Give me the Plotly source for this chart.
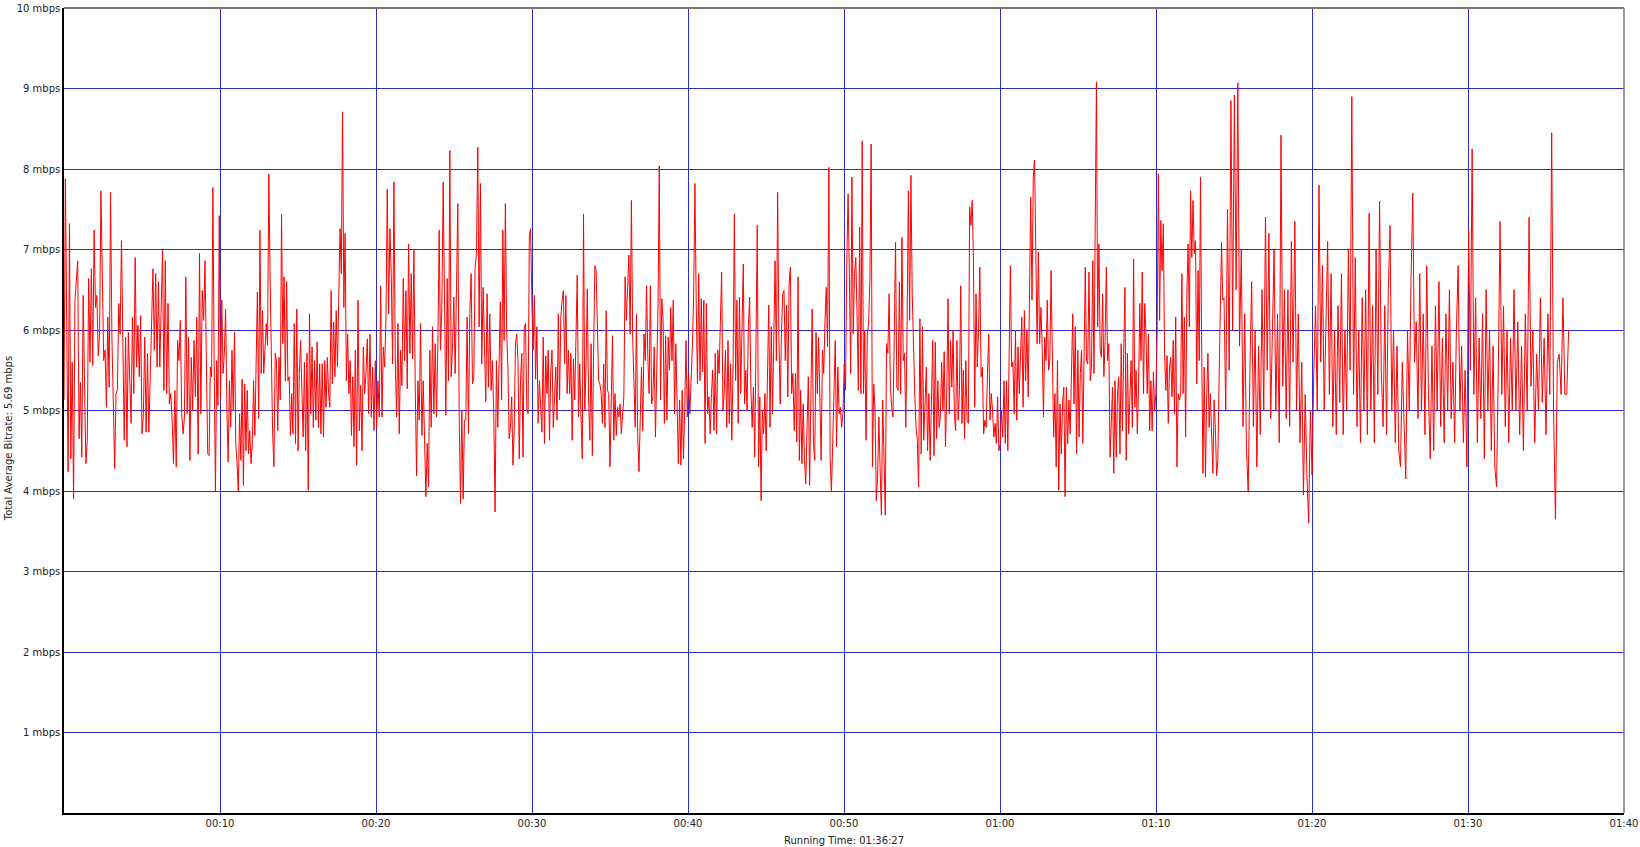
import numpy as np
import plotly.graph_objects as go

# ---- data (minutes of running time, Mbps) ----
seg_00 = [5.13, 7.88, 6.10, 4.24, 7.32, 4.40, 5.60, 3.90, 6.37, 6.70, 6.86, 4.65, 5.35, 4.42, 6.43, 5.35, 4.34, 4.63, 6.64, 5.60,
          6.76, 5.56, 7.24, 6.28, 6.43, 5.68, 5.95, 7.73, 6.37, 5.62, 5.75, 5.04, 6.16, 5.29, 7.71, 5.91, 5.13, 4.28, 5.21, 5.25,
          6.33, 5.95, 7.11, 5.91, 4.63, 5.91, 4.55, 5.97, 5.21, 4.84, 6.16, 5.21, 6.90, 5.54, 6.06, 5.42, 6.18, 4.71, 4.96, 5.91,
          4.73, 5.71, 4.73, 5.42, 6.06, 6.76, 5.75, 6.70, 5.54, 6.60, 5.54, 6.33, 6.99, 5.25, 6.86, 5.21, 6.33, 5.08, 5.21, 4.88,
          4.34, 5.25, 4.30, 5.87, 5.62, 6.12, 4.96, 4.71, 4.92, 6.66, 4.96, 5.91, 4.38, 5.66, 5.00, 5.87, 5.17, 6.16, 4.46, 6.95,
          4.96, 6.49, 6.12, 6.86, 5.62, 4.46]
seg_01 = [4.44, 5.54, 5.42, 7.77, 5.62, 3.99, 5.62, 5.06, 7.42, 5.17, 6.37, 5.46, 5.71, 6.26, 5.00, 4.36, 5.37, 4.79, 5.75, 5.00,
          5.97, 4.59, 4.34, 3.99, 4.96, 4.38, 5.39, 4.07, 5.33, 4.50, 5.25, 4.46, 4.75, 4.34, 4.59, 5.37, 4.69, 5.42, 6.47, 4.90,
          7.24, 5.46, 6.24, 5.46, 5.83, 6.08, 5.81, 7.94, 6.66, 5.46, 4.71, 4.30, 5.71, 5.62, 4.75, 5.66, 5.13, 7.44, 5.83, 6.66,
          5.37, 6.60, 5.37, 5.42, 4.69, 5.21, 4.71, 6.08, 4.59, 6.26, 4.50, 5.46, 5.87, 5.25, 4.67, 5.60, 4.50, 5.71, 4.01, 6.20,
          4.96, 5.79, 4.79, 5.62, 4.88, 5.85, 4.79, 5.58, 4.71, 5.58, 4.67, 5.62, 5.04, 5.66, 5.21, 5.04, 6.49, 5.33, 6.10, 5.42,
          6.24, 5.54, 6.66, 7.26, 6.70, 8.71, 6.28, 7.20, 5.37, 5.95, 5.21, 5.62, 4.69, 5.42]
seg_02 = [4.55, 5.75, 4.32, 6.37, 4.75, 5.31, 4.50, 5.79, 5.21, 5.46, 5.89, 4.96, 5.95, 4.92, 5.54, 4.75, 5.62, 4.79, 5.37, 4.92,
          6.55, 4.92, 5.79, 5.54, 6.12, 7.75, 6.20, 7.26, 6.66, 5.58, 7.84, 5.62, 4.92, 6.08, 4.71, 5.75, 5.31, 6.64, 5.62, 6.49,
          5.27, 7.07, 5.71, 6.70, 5.64, 6.99, 5.33, 4.19, 5.37, 4.88, 6.08, 4.69, 5.37, 4.46, 3.93, 4.59, 4.05, 5.75, 4.79, 6.04,
          4.96, 5.83, 4.92, 5.83, 7.24, 5.75, 6.28, 7.84, 6.37, 4.94, 6.64, 5.37, 8.23, 5.42, 5.79, 6.41, 5.46, 6.68, 7.57, 5.00,
          3.84, 5.00, 3.90, 4.88, 4.88, 6.16, 4.71, 6.20, 6.70, 5.33, 5.42, 6.78, 6.95, 8.27, 6.04, 7.82, 5.58, 6.53, 5.83, 5.11,
          6.45, 5.29, 6.20, 5.25, 5.62, 4.96, 3.74, 5.62, 4.79]
seg_03 = [5.66, 6.35, 5.13, 7.24, 5.87, 7.57, 6.00, 5.54, 4.65, 4.79, 5.17, 4.32, 4.75, 5.83, 5.95, 5.62, 4.40, 5.37, 5.71, 4.42,
          6.04, 6.08, 5.00, 4.96, 7.17, 7.26, 6.37, 5.75, 6.43, 5.39, 6.04, 4.84, 5.37, 4.96, 4.73, 5.91, 4.59, 5.68, 5.21, 5.75,
          4.63, 5.48, 5.75, 4.79, 5.21, 5.54, 4.88, 6.20, 5.13, 6.16, 6.37, 6.49, 5.58, 6.43, 5.21, 5.75, 5.21, 5.71, 4.63, 5.64,
          5.13, 5.75, 6.68, 4.92, 5.58, 4.92, 4.40, 7.44, 5.00, 5.54, 6.51, 5.17, 4.63, 5.83, 4.44, 5.71, 6.80, 6.74, 6.12, 5.37,
          5.33, 5.21, 4.84, 5.58, 4.79, 6.24, 5.25, 5.21, 4.30, 5.00, 5.93, 4.63, 5.21, 4.69, 5.04, 4.92, 5.08, 4.71, 4.96, 5.17,
          6.66, 6.12, 6.53, 6.93, 5.95, 7.61, 5.91, 5.21, 4.79, 6.20, 4.67, 4.24, 4.79, 5.54, 4.75]
seg_04 = [5.95, 5.62, 6.55, 5.66, 5.21, 6.55, 5.08, 5.17, 5.79, 4.67, 5.71, 6.28, 8.04, 5.13, 6.39, 6.12, 4.84, 5.93, 4.88, 5.91,
          5.50, 6.28, 5.62, 6.37, 4.96, 5.83, 5.08, 4.34, 5.13, 4.32, 5.25, 4.40, 5.00, 5.87, 4.92, 5.46, 4.96, 5.33, 5.79, 6.41,
          7.82, 6.37, 5.33, 6.70, 5.37, 6.39, 5.48, 6.37, 4.59, 6.33, 4.96, 5.17, 4.71, 5.21, 5.50, 4.75, 5.71, 4.71, 5.75, 5.46,
          5.95, 6.72, 5.00, 5.21, 5.75, 4.79, 5.87, 4.84, 5.58, 4.63, 5.58, 7.44, 5.37, 6.37, 4.84, 6.41, 5.21, 6.04, 6.82, 5.08,
          5.50, 5.00, 6.04, 6.41, 5.25, 4.79, 5.29, 4.42, 5.62, 7.30, 4.30, 5.17, 3.88, 5.00, 4.71, 5.21, 4.50, 5.50, 6.31, 4.79,
          6.04, 4.96, 6.00, 6.86, 5.62, 7.71, 5.91, 5.08, 5.95, 6.45, 6.49, 5.62, 6.31, 5.17]
seg_05 = [6.57, 6.78, 5.21, 5.46, 4.75, 5.46, 4.61, 6.66, 4.38, 5.25, 4.34, 5.08, 4.38, 4.09, 4.79, 5.42, 4.07, 5.37, 6.26, 4.59,
          4.38, 5.97, 5.21, 5.91, 4.88, 4.38, 5.75, 5.46, 6.12, 6.53, 5.79, 8.02, 4.42, 3.99, 4.59, 5.13, 5.87, 4.55, 5.54, 4.96,
          5.04, 4.79, 4.96, 5.58, 5.25, 6.86, 7.69, 6.70, 5.46, 7.90, 5.95, 6.70, 6.90, 6.20, 5.25, 7.28, 5.21, 8.35, 5.21, 6.00,
          4.63, 5.95, 6.08, 6.62, 8.31, 4.30, 5.33, 5.00, 3.88, 4.17, 4.92, 4.26, 3.70, 5.13, 4.22, 3.70, 5.83, 5.71, 6.45, 5.29,
          5.04, 4.92, 5.91, 7.09, 5.29, 5.25, 6.60, 5.21, 7.15, 5.62, 5.71, 4.79, 6.04, 7.73, 6.12, 7.92, 6.45, 5.62, 5.21, 4.79,
          4.63, 4.05, 6.14, 4.46, 6.04, 4.63, 5.21, 5.54, 4.50, 5.21, 4.38, 5.42, 5.87]
seg_06 = [4.44, 5.85, 4.65, 5.37, 4.79, 4.92, 5.60, 5.00, 5.73, 4.55, 5.21, 6.39, 4.96, 5.87, 5.29, 6.00, 4.96, 4.75, 5.87, 4.88,
          5.25, 6.55, 4.84, 5.50, 4.65, 5.62, 4.88, 4.84, 7.53, 7.30, 7.61, 6.86, 5.04, 6.45, 5.54, 6.00, 6.78, 5.42, 5.54, 4.71,
          4.88, 4.79, 5.46, 5.95, 4.88, 5.21, 5.00, 4.67, 4.84, 4.59, 5.17, 4.50, 4.59, 5.00, 4.67, 5.37, 4.59, 5.37, 4.50, 5.46,
          6.80, 5.54, 5.60, 4.96, 6.00, 4.88, 5.79, 5.21, 5.75, 6.16, 5.04, 6.24, 5.37, 6.00, 5.17, 6.41, 7.65, 6.37, 7.90, 8.11,
          7.03, 5.83, 6.97, 5.83, 6.28, 5.79, 4.92, 5.91, 5.62, 6.37, 5.50, 5.62, 6.74, 5.33, 4.67, 5.21, 4.30, 5.62, 4.01, 5.08,
          4.46, 5.08, 5.29, 3.93, 5.29, 4.59, 5.13, 4.71, 5.62, 6.20, 5.08, 6.04, 4.46, 5.75]
seg_07 = [4.67, 5.46, 5.75, 4.59, 5.66, 6.78, 5.62, 5.58, 6.72, 5.37, 5.54, 6.86, 5.46, 7.03, 9.08, 6.04, 7.07, 5.75, 5.66, 6.45,
          5.42, 5.87, 6.78, 5.62, 5.83, 4.42, 4.96, 5.29, 4.22, 5.37, 4.42, 5.21, 5.42, 4.46, 5.83, 4.75, 5.71, 6.53, 4.38, 5.71,
          4.71, 5.21, 5.62, 4.79, 6.88, 5.04, 5.50, 4.71, 5.29, 6.33, 5.62, 6.72, 5.21, 6.33, 5.95, 5.21, 5.95, 4.75, 5.37, 4.75,
          5.48, 5.00, 5.21, 5.95, 7.94, 6.12, 7.36, 6.74, 7.32, 5.71, 5.25, 5.68, 4.84, 5.54, 5.66, 5.17, 5.87, 4.96, 6.16, 4.30,
          5.21, 5.13, 5.21, 6.70, 5.21, 6.16, 4.67, 6.45, 7.07, 6.04, 7.73, 6.90, 7.61, 6.95, 7.11, 5.33, 6.74, 5.62, 7.90, 5.71,
          4.22, 5.54, 4.17, 5.17, 5.71, 4.79, 5.21, 4.71, 4.22, 5.13, 4.79, 4.19, 4.38, 5.37, 6.08, 7.09, 6.37]
seg_08 = [6.4, 5.0, 7.5, 5.5, 8.85, 6.0, 8.92, 6.5, 9.07, 5.8, 7.0, 4.8, 6.2, 4.5, 4.0, 5.5, 6.6, 4.8, 6.0, 4.3,
          5.8, 4.7, 6.5, 5.0, 7.4, 5.5, 7.2, 4.9, 6.0, 7.0, 5.0, 6.2, 4.6, 8.42, 5.3, 6.5, 4.9, 6.5, 4.8, 7.1,
          5.6, 7.35, 5.0, 6.2, 4.6, 5.6, 3.95, 5.2, 4.2, 3.6, 5.0, 4.2, 5.5, 6.3, 5.0, 7.8, 5.6, 6.8, 5.0, 6.2,
          7.1, 5.2, 6.7, 4.8, 6.0, 4.7, 6.3, 5.1, 6.7, 4.7, 6.0, 5.0, 7.0, 5.5, 8.9, 5.2, 6.9, 4.8, 6.0, 4.6,
          6.4, 5.0, 6.5, 4.7]
seg_09 = [7.45, 5.0, 6.3, 4.6, 7.0, 5.2, 7.6, 5.5, 4.8, 6.3, 4.7, 6.5, 7.3, 5.0, 6.0, 4.6, 5.8, 4.5, 4.3, 5.6,
          4.7, 4.15, 6.0, 5.0, 6.6, 7.7, 5.6, 6.1, 4.9, 6.7, 5.0, 6.2, 4.7, 6.8, 5.2, 4.4, 5.8, 4.5, 6.3, 5.0,
          6.6, 4.8, 5.9, 4.6, 6.2, 5.0, 6.5, 4.9, 5.6, 4.6, 6.0, 6.8, 5.0, 5.8, 4.6, 5.5, 4.3, 7.25, 5.5, 8.25,
          5.2, 6.4, 4.6, 5.9, 4.9, 6.2, 4.4, 6.5, 5.0, 6.0, 4.5, 5.8, 4.3, 4.05, 5.5, 7.35, 5.2, 6.3, 4.8, 6.0,
          4.6, 5.9, 5.0]
seg_10 = [6.5, 5.0, 6.1, 4.7, 5.8, 4.5, 6.2, 5.0, 7.4, 5.3, 6.0, 4.6, 5.7, 5.0, 6.4, 5.1, 5.9, 4.7, 6.2, 5.2,
          8.45, 5.0, 3.65, 5.6, 5.7, 5.2, 6.4, 5.2, 5.2, 6.0]

# time span (minutes) covered by each segment of readings
segment_spans = [(0.0, 9.3), (9.3, 18.59), (18.59, 27.89), (27.89, 37.18), (37.18, 46.48), (46.48, 55.77),
                 (55.77, 65.07), (65.07, 74.36), (74.36, 83.66), (83.66, 92.95), (92.95, 96.45)]
segments = [seg_00, seg_01, seg_02, seg_03, seg_04, seg_05, seg_06, seg_07, seg_08, seg_09, seg_10]

x_tick_vals = [10, 20, 30, 40, 50, 60, 70, 80, 90, 100]
x_tick_text = ["00:10", "00:20", "00:30", "00:40", "00:50", "01:00", "01:10", "01:20", "01:30", "01:40"]
y_tick_vals = [1, 2, 3, 4, 5, 6, 7, 8, 9, 10]
y_tick_text = ["1 mbps", "2 mbps", "3 mbps", "4 mbps", "5 mbps", "6 mbps", "7 mbps", "8 mbps", "9 mbps", "10 mbps"]

# ---- build series ----
times, rates = [], []
for i, ((t0, t1), vals) in enumerate(zip(segment_spans, segments)):
    n = len(vals)
    last = i == len(segments) - 1
    ts = np.linspace(t0, t1, n, endpoint=last)
    times.extend(ts.tolist())
    rates.extend(vals)

FONT = "DejaVu Sans"
GRID = "#2a2ad6"

fig = go.Figure()
fig.add_trace(go.Scatter(x=times, y=rates, mode="lines",
                         line=dict(color="#ff0000", width=1), hoverinfo="skip"))

fig.update_layout(
    width=1640, height=847,
    margin=dict(l=64, r=16, t=8, b=34),
    paper_bgcolor="white", plot_bgcolor="white",
    showlegend=False,
    font=dict(family=FONT, size=10, color="#222222"),
)
fig.update_xaxes(range=[0, 100], tickvals=x_tick_vals, ticktext=x_tick_text,
                 showgrid=True, gridcolor=GRID, gridwidth=1, zeroline=False,
                 showline=True, linecolor="black", linewidth=1.5, ticks="",
                 tickfont=dict(size=10), fixedrange=True, automargin=False)
fig.update_yaxes(range=[0, 10], tickvals=y_tick_vals, ticktext=y_tick_text,
                 showgrid=True, gridcolor=GRID, gridwidth=1, zeroline=False,
                 showline=True, linecolor="black", linewidth=1.5, ticks="",
                 tickfont=dict(size=10), fixedrange=True, automargin=False)

# grey top / right frame
fig.add_shape(type="line", xref="paper", yref="paper", x0=0, x1=1, y0=1, y1=1,
              line=dict(color="#777777", width=2))
fig.add_shape(type="line", xref="paper", yref="paper", x0=1, x1=1, y0=0, y1=1,
              line=dict(color="#777777", width=1.5))

fig.add_annotation(text="Running Time: 01:36:27", xref="paper", yref="paper",
                   x=0.5, y=0, yshift=-35, showarrow=False, font=dict(size=10))
fig.add_annotation(text="Total Average Bitrate: 5.69 mbps", xref="paper", yref="paper",
                   x=0, xshift=-63, y=0.465, textangle=-90, showarrow=False, font=dict(size=10))

fig.write_html("out.html", config={"displayModeBar": False},
               post_script="document.body.style.margin='0';")
